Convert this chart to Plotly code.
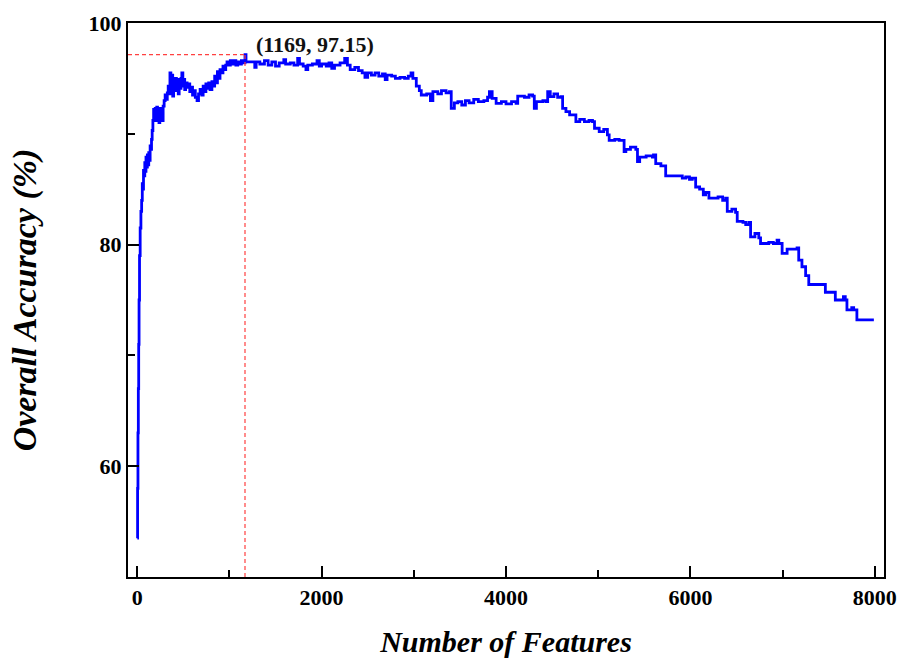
import plotly.graph_objects as go

# Number of features (step positions) and overall accuracy (%)
features = [1, 4, 8, 12, 16, 20, 25, 32, 40, 48, 55, 62, 68, 75, 82, 88, 95, 102, 110, 118,
            125, 132, 140, 148, 155, 162, 170, 178, 186, 195, 203, 212, 220, 228, 236, 245, 253,
            262, 270, 281, 292, 303, 315, 326, 336, 345, 355, 365, 375, 385, 395, 405, 415, 425,
            435, 445, 455, 465, 475, 484, 495, 505, 515, 525, 541, 555, 570, 585, 600, 615, 630,
            649, 665, 682, 700, 715, 730, 745, 760, 775, 790, 810, 826, 840, 855, 870, 885, 898,
            915, 930, 945, 960, 974, 990, 1010, 1030, 1050, 1070, 1090, 1110, 1130, 1150, 1169,
            1180, 1275, 1290, 1330, 1380, 1420, 1460, 1500, 1540, 1590, 1610, 1660, 1700, 1740,
            1760, 1800, 1830, 1850, 1900, 1950, 1975, 2000, 2050, 2080, 2110, 2140, 2200, 2250,
            2280, 2310, 2360, 2400, 2440, 2470, 2500, 2540, 2580, 2620, 2660, 2690, 2710, 2760,
            2800, 2850, 2900, 2940, 2970, 2990, 3027, 3060, 3081, 3140, 3180, 3207, 3260, 3300,
            3350, 3387, 3406, 3440, 3478, 3520, 3560, 3600, 3650, 3700, 3760, 3800, 3820, 3850,
            3893, 3950, 4000, 4060, 4109, 4127, 4200, 4250, 4289, 4307, 4330, 4400, 4434, 4452,
            4480, 4520, 4560, 4596, 4614, 4650, 4690, 4722, 4758, 4800, 4850, 4900, 4938, 4960,
            5011, 5060, 5100, 5119, 5180, 5227, 5281, 5300, 5350, 5408, 5426, 5450, 5520, 5588,
            5600, 5624, 5680, 5732, 5800, 5877, 5912, 5950, 5990, 6020, 6057, 6100, 6140, 6165,
            6201, 6300, 6350, 6382, 6400, 6450, 6490, 6508, 6570, 6600, 6634, 6653, 6700, 6742,
            6761, 6850, 6900, 6940, 6959, 6995, 7049, 7100, 7157, 7175, 7210, 7250, 7284, 7464,
            7572, 7660, 7680, 7698, 7750, 7771, 7806, 7990]

accuracy = [53.5, 58, 63, 67, 71, 75, 79, 81.5, 83, 84, 85.5, 85, 86.7, 86.2, 87.4, 86.6, 87.9,
            87.0, 88.1, 87.2, 88.3, 87.6, 88.9, 88.6, 89.5, 90.3, 91.2, 92.2, 91.4, 92.3, 91.2,
            92.4, 91.5, 92.2, 91.0, 92.3, 91.4, 92.0, 91.2, 92.5, 93.0, 93.5, 93.1, 93.7, 94.3,
            93.6, 95.5, 94.0, 95.3, 93.4, 94.8, 93.9, 95.0, 94.2, 94.9, 93.6, 94.7, 94.1, 95.0,
            95.5, 94.3, 94.9, 94.0, 94.6, 94.2, 94.5, 93.8, 94.2, 93.5, 93.9, 93.3, 93.0, 93.6,
            94.0, 93.5, 94.3, 93.8, 94.5, 94.1, 94.6, 94.0, 94.7, 94.3, 95.2, 94.6, 95.6, 95.0,
            95.8, 95.5, 96.1, 95.8, 96.2, 96.5, 96.2, 96.6, 96.3, 96.6, 96.2, 96.5, 96.3, 96.6,
            96.4, 97.15,
            96.5, 96.0, 96.5, 96.3, 96.6, 96.2, 96.5, 96.1, 96.4, 96.7, 96.3, 96.4, 96.2, 96.8,
            96.3, 96.1, 95.8, 96.2, 96.3, 96.6, 96.1, 96.3, 96.1, 96.4, 95.9, 96.2, 96.4, 96.8,
            96.2, 95.8, 96.0, 95.7, 95.5, 95.1, 95.5, 95.3, 95.5, 95.2, 95.4, 94.9, 95.3, 95.2,
            95.0, 95.1, 95.0, 95.2, 95.5, 95.0, 94.3, 93.9, 93.5, 93.6, 93.0, 93.8, 93.6, 93.9,
            93.7, 93.8, 92.3, 92.8, 92.9, 92.6, 93.0, 92.8, 93.1, 92.9, 93.0, 93.3, 93.8, 93.2,
            92.75, 92.9, 92.7, 92.9, 92.75, 93.4, 93.3, 93.5, 93.4, 92.3, 92.9, 93.0, 92.9, 93.8,
            93.35, 93.6, 93.3, 93.35, 92.3, 92.0, 91.7, 91.7, 91.1, 91.3, 91.1, 91.2, 91.1, 90.5,
            90.2, 90.4, 89.9, 89.4, 89.5, 89.4, 88.4, 88.6, 88.8, 88.6, 87.5, 87.9, 88.0, 87.9,
            88.1, 87.3, 87.1, 86.2, 86.2, 86.2, 86.0, 86.1, 85.9, 86.0, 85.2, 85.0, 84.5, 84.7,
            84.2, 84.3, 84.0, 84.2, 83.0, 83.2, 82.9, 82.1, 82.0, 81.8, 82.0, 80.7, 81.0, 80.6,
            80.1, 80.2, 80.1, 80.4, 80.1, 79.2, 79.6, 79.6, 79.7, 78.6, 78.0, 77.2, 76.4, 75.7,
            75.0, 75.3, 75.0, 74.1, 74.3, 74.1, 73.2, 73.2]

best_features = 1169
best_accuracy = 97.15
x_range = [-100, 8100]
y_range = [50, 100]

FONT = "Liberation Serif"

fig = go.Figure()
fig.add_trace(go.Scatter(
    x=features, y=accuracy, mode="lines", line=dict(color="#0000FF", width=2.8, shape="hv"),
    showlegend=False, hoverinfo="skip"))
# reference dashed lines to the best point
fig.add_trace(go.Scatter(
    x=[x_range[0], best_features], y=[best_accuracy, best_accuracy], mode="lines",
    line=dict(color="#FF4040", width=1.2, dash="4px,3px"), showlegend=False))
fig.add_trace(go.Scatter(
    x=[best_features, best_features], y=[y_range[0], best_accuracy], mode="lines",
    line=dict(color="#FF4040", width=1.2, dash="4px,3px"), showlegend=False))

fig.add_annotation(
    x=best_features + 95, y=best_accuracy + 0.9, xref="x", yref="y",
    text=f"({best_features}, {best_accuracy:.2f})", showarrow=False,
    xanchor="left", yanchor="middle",
    font=dict(family=FONT, size=22, color="#111", weight="bold"))

axis_common = dict(
    showline=True, linecolor="black", linewidth=2, mirror=True, ticks="inside",
    ticklen=11, tickwidth=2, tickcolor="black", showgrid=False, zeroline=False,
    tickfont=dict(family=FONT, size=22, color="black", weight="bold"))

fig.update_xaxes(
    range=x_range, tickmode="linear", tick0=0, dtick=2000,
    minor=dict(dtick=1000, tick0=0, ticks="inside", ticklen=7, tickwidth=2, tickcolor="black"),
    title=dict(text="Number of Features", standoff=22,
               font=dict(family=FONT, size=30, color="black", weight="bold", style="italic")),
    **axis_common)
fig.update_yaxes(
    range=y_range, tickmode="linear", tick0=0, dtick=20,
    minor=dict(dtick=10, tick0=0, ticks="inside", ticklen=7, tickwidth=2, tickcolor="black"),
    title=dict(text="Overall Accuracy (%)", standoff=42,
               font=dict(family=FONT, size=34, color="black", weight="bold", style="italic")),
    **axis_common)

fig.update_layout(
    width=901, height=661, plot_bgcolor="white", paper_bgcolor="white",
    margin=dict(l=128, r=17, t=23, b=84, autoexpand=False))

fig.write_html("out.html")
